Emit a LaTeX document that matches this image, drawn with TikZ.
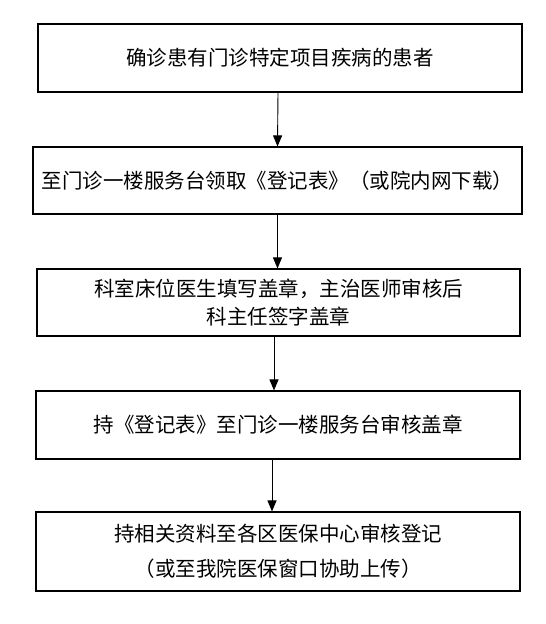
\documentclass[tikz,border=0pt]{standalone}
\usepackage{fontspec}
\newfontfamily\cjk{Noto Sans CJK SC}
\usetikzlibrary{arrows.meta}
\begin{document}
\begin{tikzpicture}[x=1pt,y=-1pt,
    etape/.style={draw=black, line width=1.1pt, inner sep=0pt, align=center,
        font=\cjk\fontsize{20.5}{28}\selectfont},
    fleche/.style={line width=0.9pt, -{Triangle[width=9pt,length=11pt]}}]
    \useasboundingbox (0,0) rectangle (546,624);
    %Etapes
    \node[etape, minimum width=484pt, minimum height=68pt] (b1) at (280,58) {确诊患有门诊特定项目疾病的患者};
    \node[etape, minimum width=489pt, minimum height=67pt] (b2) at (277.5,180.5) {至门诊一楼服务台领取《登记表》（或院内网下载）};
    \node[etape, minimum width=483pt, minimum height=67pt] (b3) at (278.5,302.5) {科室床位医生填写盖章，主治医师审核后\\科主任签字盖章};
    \node[etape, minimum width=484pt, minimum height=68pt] (b4) at (278,425) {持《登记表》至门诊一楼服务台审核盖章};
    \node[etape, minimum width=484pt, minimum height=79pt] (b5) at (278,551.5) {持相关资料至各区医保中心审核登记\\[7pt]（或至我院医保窗口协助上传）};
    %Fleches
    \draw[fleche] ([xshift=-2pt]b1.south) -- (b2.north);
    \draw[fleche] (b2.south) -- ([xshift=-1pt]b3.north);
    \draw[fleche] ([xshift=-4.5pt]b3.south) -- ([xshift=-4pt]b4.north);
    \draw[fleche] ([xshift=-6pt]b4.south) -- ([xshift=-6pt]b5.north);
\end{tikzpicture}
\end{document}
